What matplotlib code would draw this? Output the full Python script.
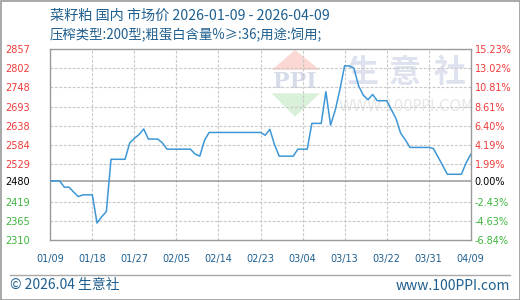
import numpy as np
import pandas as pd
import matplotlib
matplotlib.use("Agg")
import matplotlib.pyplot as plt
from matplotlib.patches import Polygon, Rectangle
from matplotlib.lines import Line2D

# Data (daily, 2026-01-09 .. 2026-04-09)
start_date = "2026-01-09"
prices = [2480, 2480, 2480, 2462, 2462, 2448, 2435, 2440, 2440, 2440,
          2359, 2377, 2392, 2542, 2542, 2542, 2542, 2589, 2602, 2613,
          2629, 2600, 2600, 2600, 2589, 2571, 2571, 2571, 2571, 2571,
          2571, 2557, 2551, 2596, 2619, 2619, 2619, 2619, 2619, 2619,
          2619, 2619, 2619, 2619, 2619, 2619, 2611, 2628, 2584, 2551,
          2551, 2551, 2551, 2571, 2571, 2571, 2645, 2645, 2645, 2736,
          2640, 2683, 2742, 2810, 2810, 2803, 2753, 2726, 2713, 2728,
          2710, 2710, 2710, 2685, 2659, 2617, 2598, 2576, 2576, 2576,
          2576, 2576, 2573, 2549, 2524, 2499, 2499, 2499, 2499, 2531,
          2556]
base_price = 2480
y_min, y_max = 2310.4, 2857.6
left_labels = ["2310", "2365", "2419", "2480", "2529", "2584",
               "2638", "2693", "2748", "2802", "2857"]
right_labels = ["-6.84%", "-4.63%", "-2.43%", "0.00%", "1.99%", "4.19%",
                "6.40%", "8.61%", "10.81%", "13.02%", "15.23%"]
x_labels = ["01/09", "01/18", "01/27", "02/05", "02/14", "02/23",
            "03/04", "03/13", "03/22", "03/31", "04/09"]

title = "菜籽粕 国内 市场价 2026-01-09 - 2026-04-09"
subtitle = "压榨类型:200型;粗蛋白含量%≥:36;用途:饲用;"

CJK = ["Noto Sans CJK SC", "DejaVu Sans"]
RED = "#f03a3a"
GREEN = "#3cb43c"
BLUE_TXT = "#1f5f8f"
GRID = "#c8c8c8"
FRAME = "#9a9a9a"

dates = pd.date_range(start_date, periods=len(prices), freq="D")

fig = plt.figure(figsize=(5.2, 3.0), dpi=100)
ax = fig.add_axes([50.3 / 520, 1 - 240 / 300, 420.4 / 520, 190.7 / 300])

# watermark (behind data)
wm = fig.add_axes([0, 0, 1, 1], zorder=0)
wm.set_xlim(0, 520)
wm.set_ylim(300, 0)
wm.axis("off")
wm.add_patch(Polygon([[295, 50], [271.7, 70], [320, 70]], closed=True,
                     color="#fbd8d3", lw=0))
wm.add_patch(Polygon([[271.7, 93.3], [320, 93.3], [295, 116.7]], closed=True,
                     color="#d9f0d9", lw=0))
wm.text(295, 82, "PPI", ha="center", va="center", fontsize=16,
        family="DejaVu Serif", weight="bold", color="#d6dce9")
for cx, ch in zip([361.7, 405, 450], "生意社"):
    wm.text(cx, 73, ch, ha="center", va="center", fontsize=23,
            family=CJK, weight="bold", color="#dde2ee")
wm.text(406, 106.5, "WWW.100PPI.COM", ha="center", va="center",
        fontsize=10.5, color="#e6e6e6")

ax.set_zorder(1)
ax.patch.set_alpha(0)

ax.plot(dates, prices, color="#3d97d6", lw=1.1, zorder=3)

ax.set_ylim(y_min, y_max)
ax.set_xlim(dates[0], dates[-1])

grid_pos = np.linspace(y_min, y_max, 11)
tick_pos = grid_pos.copy()
tick_pos[3] = base_price
for i, g in enumerate(grid_pos):
    if i in (0, 3, 10):
        continue
    ax.axhline(g, color=GRID, lw=0.8, ls=(0, (2.5, 1.5)), zorder=1)
ax.axhline(base_price, color="#9a9a9a", lw=1.1, zorder=2)

xt = pd.date_range(start_date, periods=len(x_labels), freq="9D")
for d in xt[1:-1]:
    ax.axvline(d, color=GRID, lw=0.8, ls=(0, (2.5, 1.5)), zorder=1)

for s in ax.spines.values():
    s.set_color(FRAME)
    s.set_linewidth(1.0)

ax.set_xticks(xt)
ax.set_xticklabels(x_labels, fontsize=7, color=BLUE_TXT)
ax.tick_params(axis="x", length=0, pad=10)

ax.set_yticks(tick_pos)
ax.set_yticklabels(left_labels, fontsize=7)
ax.tick_params(axis="y", length=0, pad=22)
for lab in ax.get_yticklabels():
    lab.set_horizontalalignment("left")

ax2 = ax.twinx()
ax2.set_ylim(y_min, y_max)
ax2.set_yticks(tick_pos)
ax2.set_yticklabels(right_labels, fontsize=7)
ax2.tick_params(axis="y", length=0, pad=3)
for s in ax2.spines.values():
    s.set_visible(False)

for labs in (ax.get_yticklabels(), ax2.get_yticklabels()):
    for i, lab in enumerate(labs):
        lab.set_color(GREEN if i < 3 else ("black" if i == 3 else RED))

# move left labels so they start at x=5px
for lab in ax.get_yticklabels():
    lab.set_x(-45.3 / 420.4)
ax.tick_params(axis="y", pad=0)

fig.text(50 / 520, 1 - 16 / 300, title, fontsize=10.2, family=CJK,
         color=BLUE_TXT, va="center", ha="left")
fig.text(50 / 520, 1 - 35 / 300, subtitle, fontsize=9.6, family=CJK,
         color=BLUE_TXT, va="center", ha="left")

fig.add_artist(Line2D([10 / 520, 510 / 520], [1 - 275 / 300] * 2,
                      color="#a8a8a8", lw=1.0))
fig.text(10 / 520, 1 - 285.5 / 300, "© 2026.04 生意社", fontsize=10,
         family=CJK, color=BLUE_TXT, va="center", ha="left")
fig.text(510 / 520, 1 - 285.5 / 300, "www.100PPI.com", fontsize=10,
         family=CJK, color=BLUE_TXT, va="center", ha="right")

fig.add_artist(Rectangle((0.5 / 520, 0.5 / 300), 519 / 520, 299 / 300,
                         transform=fig.transFigure, fill=False,
                         edgecolor="#9a9a9a", lw=1.2))

fig.savefig("out.png", dpi=100)
